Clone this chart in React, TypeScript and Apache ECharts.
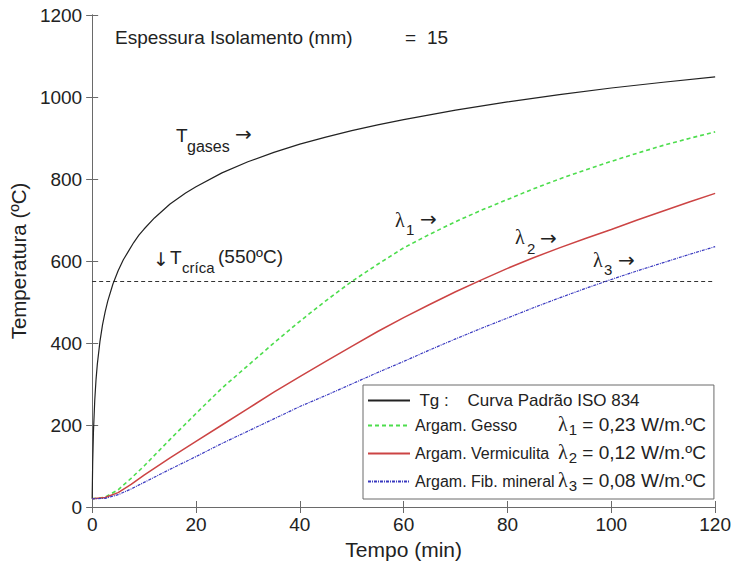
import React, { useEffect, useRef } from "react";
import * as echarts from "echarts";

const timeGases = [0, 0.1, 0.25, 0.5, 0.75, 1, 1.5, 2, 2.5, 3, 4, 5, 6, 7, 8, 9, 10, 12, 15, 18, 20, 25, 30, 35, 40, 45, 50, 55, 60, 70, 80, 90, 100, 110, 120];
const tempGases = [20, 108, 185, 261, 312, 349, 404, 445, 476, 502, 544, 576, 603, 624, 645, 663, 678, 705, 739, 766, 781, 815, 842, 865, 885, 902, 918, 932, 945, 968, 988, 1006, 1022, 1036, 1049];
const timeSamples = [0, 2.5, 5, 7.5, 10, 15, 20, 25, 30, 35, 40, 45, 50, 55, 60, 65, 70, 75, 80, 85, 90, 95, 100, 105, 110, 115, 120];
const tempGesso = [20, 24, 42, 70, 100, 165, 228, 290, 345, 400, 453, 503, 550, 592, 632, 665, 696, 724, 750, 776, 800, 822, 843, 863, 882, 899, 915];
const tempVermiculita = [20, 23, 35, 55, 78, 120, 160, 200, 240, 280, 318, 355, 392, 428, 462, 494, 525, 554, 582, 608, 632, 655, 677, 700, 722, 744, 765];
const tempFibMineral = [20, 21, 30, 44, 60, 92, 123, 155, 185, 215, 245, 272, 300, 328, 355, 383, 410, 436, 461, 486, 510, 533, 555, 576, 596, 616, 635];
const tCritica = 550;
const xTicks = { min: 0, max: 120, interval: 20 };
const yTicks = { min: 0, max: 1200, interval: 200 };

const FONT = "'Liberation Sans', Arial, sans-serif";
const SERIF = "'Liberation Serif', 'DejaVu Serif', serif";
const ARROW = "'DejaVu Sans', sans-serif";
const TXT = "#222";
const AXIS = "#6a6a6a";

const pair = (xs: number[], ys: number[]) => xs.map((x, i) => [x, ys[i]]);

const label = (x: number, y: number, text: string, size: number, family = FONT) => ({
  type: "text",
  x,
  y,
  style: { text, fill: TXT, font: `${size}px ${family}`, verticalAlign: "middle", align: "left" },
});

export default function App() {
  const ref = useRef<HTMLDivElement>(null);
  useEffect(() => {
    if (!ref.current) return;
    const chart = echarts.init(ref.current, null, { renderer: "svg" });
    const legendRich = {
      t: { fontSize: 17, lineHeight: 20, fontFamily: FONT, color: TXT, verticalAlign: "middle" },
      n: { fontSize: 16, lineHeight: 20, width: 143, fontFamily: FONT, color: TXT, verticalAlign: "middle" },
      l: { fontSize: 20, lineHeight: 20, padding: [0, 0, 3, 0], fontFamily: SERIF, color: TXT, verticalAlign: "middle" },
      s: { fontSize: 15, lineHeight: 17, padding: [8, 0, 0, 1], fontFamily: FONT, color: TXT, verticalAlign: "middle" },
      e: { fontSize: 19, lineHeight: 20, padding: [0, 0, 3, 0], fontFamily: FONT, color: TXT, verticalAlign: "middle" },
    };
    const legendLabels: Record<string, string> = {
      Tg: "{t| Tg :    Curva Padrão ISO 834}",
      Gesso: "{n|Argam. Gesso}{l|λ}{s|1}{e| = 0,23 W/m.ºC}",
      Vermiculita: "{n|Argam. Vermiculita}{l|λ}{s|2}{e| = 0,12 W/m.ºC}",
      Fib: "{n|Argam. Fib. mineral}{l|λ}{s|3}{e| = 0,08 W/m.ºC}",
    };
    const axisCommon = {
      axisLine: { show: true, lineStyle: { color: AXIS, width: 1 } },
      axisTick: { show: true, inside: true, length: 6, lineStyle: { color: AXIS } },
      splitLine: { show: false },
    };
    chart.setOption({
      animation: false,
      backgroundColor: "#fff",
      grid: { left: 92, right: 14, top: 15, bottom: 63, containLabel: false },
      xAxis: [
        {
          type: "value",
          ...xTicks,
          position: "bottom",
          ...axisCommon,
          axisLabel: { fontSize: 19, color: TXT, fontFamily: FONT, margin: 8, formatter: (v: number) => String(v) },
          name: "Tempo (min)",
          nameLocation: "middle",
          nameGap: 32,
          nameTextStyle: { fontSize: 21, color: TXT, fontFamily: FONT },
        },
        { type: "value", ...xTicks, position: "top", ...axisCommon, axisLabel: { show: false } },
      ],
      yAxis: [
        {
          type: "value",
          ...yTicks,
          position: "left",
          ...axisCommon,
          axisLabel: { fontSize: 19, color: TXT, fontFamily: FONT, margin: 10, formatter: (v: number) => String(v) },
          name: "Temperatura (ºC)",
          nameLocation: "middle",
          nameGap: 53,
          nameTextStyle: { fontSize: 20.5, color: TXT, fontFamily: FONT },
        },
        { type: "value", ...yTicks, position: "right", ...axisCommon, axisLabel: { show: false } },
      ],
      legend: {
        data: ["Tg", "Gesso", "Vermiculita", "Fib"],
        orient: "vertical",
        left: 363,
        top: 385,
        padding: [7, 8, 6, 4],
        itemGap: 5,
        itemWidth: 42,
        itemHeight: 14,
        borderColor: AXIS,
        borderWidth: 1,
        borderRadius: 0,
        backgroundColor: "#fff",
        itemStyle: { opacity: 0 },
        formatter: (name: string) => legendLabels[name],
        textStyle: { fontSize: 17, color: TXT, fontFamily: FONT, rich: legendRich },
      },
      series: [
        {
          name: "crit",
          type: "line",
          data: [[xTicks.min, tCritica], [xTicks.max, tCritica]],
          symbol: "none",
          lineStyle: { color: "#333", width: 1.2, type: [4, 3] },
          z: 1,
        },
        {
          name: "Tg",
          type: "line",
          data: pair(timeGases, tempGases),
          symbol: "none",
          lineStyle: { color: "#222", width: 1.2 },
          itemStyle: { color: "#222" },
        },
        {
          name: "Gesso",
          type: "line",
          data: pair(timeSamples, tempGesso),
          symbol: "none",
          lineStyle: { color: "#4ddd4d", width: 1.6, type: [4, 3] },
          itemStyle: { color: "#4ddd4d" },
        },
        {
          name: "Vermiculita",
          type: "line",
          data: pair(timeSamples, tempVermiculita),
          symbol: "none",
          lineStyle: { color: "#cc4444", width: 1.5 },
          itemStyle: { color: "#cc4444" },
        },
        {
          name: "Fib",
          type: "line",
          data: pair(timeSamples, tempFibMineral),
          symbol: "none",
          lineStyle: { color: "#3a3ac0", width: 1.2, type: [3, 1, 1, 1] },
          itemStyle: { color: "#3a3ac0" },
        },
      ],
      graphic: [
        label(115, 37, "Espessura Isolamento (mm)", 19),
        label(405, 37, "=", 19),
        label(427, 37, "15", 19),
        label(176, 135, "T", 19),
        label(187, 146, "gases", 16),
        label(235, 134, "→", 20, ARROW),
        label(153, 259, "↓", 19, ARROW),
        label(170, 257, "T", 19),
        label(182, 267, "críca", 15),
        label(218, 256, "(550ºC)", 19),
        label(395, 220, "λ", 20, SERIF),
        label(406, 229, "1", 15),
        label(420, 219, "→", 20, ARROW),
        label(515, 237, "λ", 20, SERIF),
        label(527, 248, "2", 15),
        label(540, 238, "→", 20, ARROW),
        label(593, 260, "λ", 20, SERIF),
        label(604, 269, "3", 15),
        label(618, 260, "→", 20, ARROW),
      ],
    });
    return () => chart.dispose();
  }, []);
  return <div ref={ref} style={{ position: "absolute", left: 0, top: 0, width: 734, height: 570 }} />;
}
